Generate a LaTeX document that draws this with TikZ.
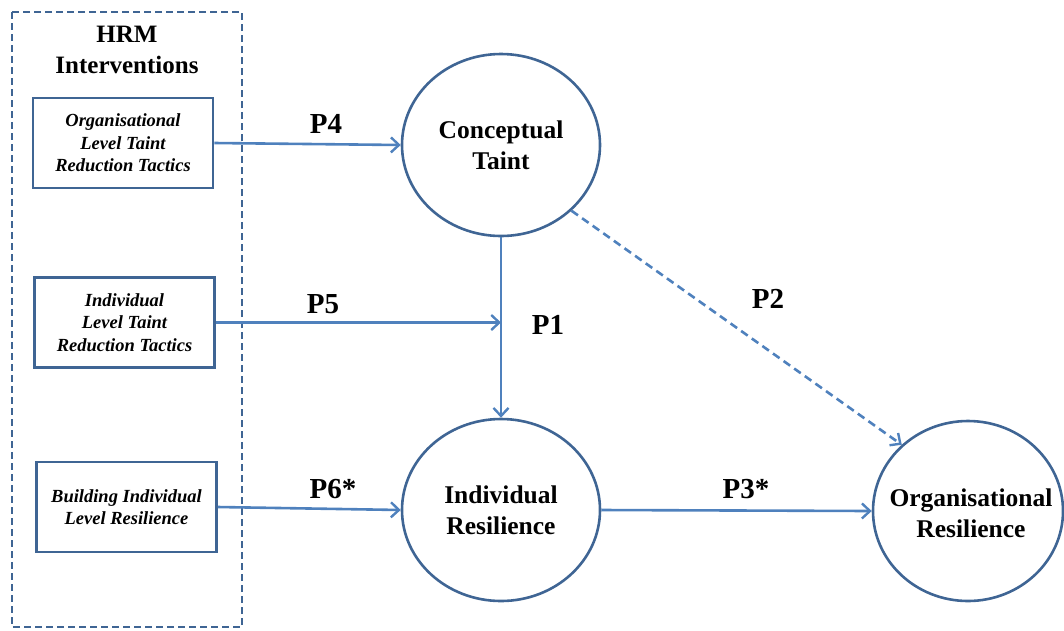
\documentclass[tikz,border=0pt]{standalone}
\usepackage{fontspec}
\setmainfont{Liberation Serif}
\usetikzlibrary{shapes.geometric,arrows.meta}
\definecolor{bord}{HTML}{3F6594}
\definecolor{arr}{HTML}{4F81BD}
\tikzset{
  x=1pt,y=-1pt,
  circ/.style={ellipse,draw=bord,line width=2.6pt,minimum width=198pt,minimum height=182pt,inner sep=0pt,align=center,font=\fontsize{25.5}{31}\selectfont\bfseries},
  ctext/.style={inner sep=0pt,align=center,font=\fontsize{25.5}{31}\selectfont\bfseries},
  tbox/.style={draw=bord,line width=2.8pt,minimum width=180pt,minimum height=90pt,inner sep=0pt,align=center,font=\fontsize{18.5}{22.5}\selectfont\bfseries\itshape},
  conn/.style={draw=arr,line width=2.6pt,-{Straight Barb[length=8pt,width=15pt,line width=2.4pt]}},
  plab/.style={font=\fontsize{29}{30}\selectfont\bfseries,inner sep=0pt},
  outer/.style={draw=bord,line width=2.6pt,dash pattern=on 7pt off 4pt},
  title/.style={font=\fontsize{25}{31}\selectfont\bfseries,align=center,inner sep=0pt}
}
\begin{document}
\begin{tikzpicture}
\useasboundingbox (0,0) rectangle (1064,630);
\draw[outer] (12,12) rectangle (242,627);
\node[title] (hrm) at (127,50) {HRM\\Interventions};
\node[tbox] (b1) at (123,143) {Organisational\\Level Taint\\Reduction Tactics};
\node[tbox] (b2) at (124.5,322.5) {Individual\\Level Taint\\Reduction Tactics};
\node[tbox] (b3) at (126.5,507) {Building Individual\\Level Resilience};
\node[circ] (ct) at (501,145) {Conceptual\\Taint};
\node[circ] (ir) at (501,510) {Individual\\Resilience};
\node[circ,minimum width=190pt,minimum height=180pt] (or) at (968,511) {};
\node[ctext] (ortext) at (971,513) {Organisational\\Resilience};
\coordinate (p5end) at (b2.east -| ct.south);
\draw[conn] (b1.east) -- (ct.west);
\draw[conn] (b2.east) -- (p5end);
\draw[conn] (ct.south) -- (ir.north);
\draw[conn] (b3.east) -- (ir.west);
\draw[conn] (ir.east) -- (or.west);
\draw[conn,dash pattern=on 8pt off 5pt] (ct.-43) -- (or.135);
\node[plab] (l4) at (326,124) {P4};
\node[plab] (l5) at (323,304) {P5};
\node[plab] (l1) at (548,325) {P1};
\node[plab] (l6) at (333,489) {P6*};
\node[plab] (l3) at (746,489) {P3*};
\node[plab] (l2) at (768,299) {P2};
\end{tikzpicture}
\end{document}
